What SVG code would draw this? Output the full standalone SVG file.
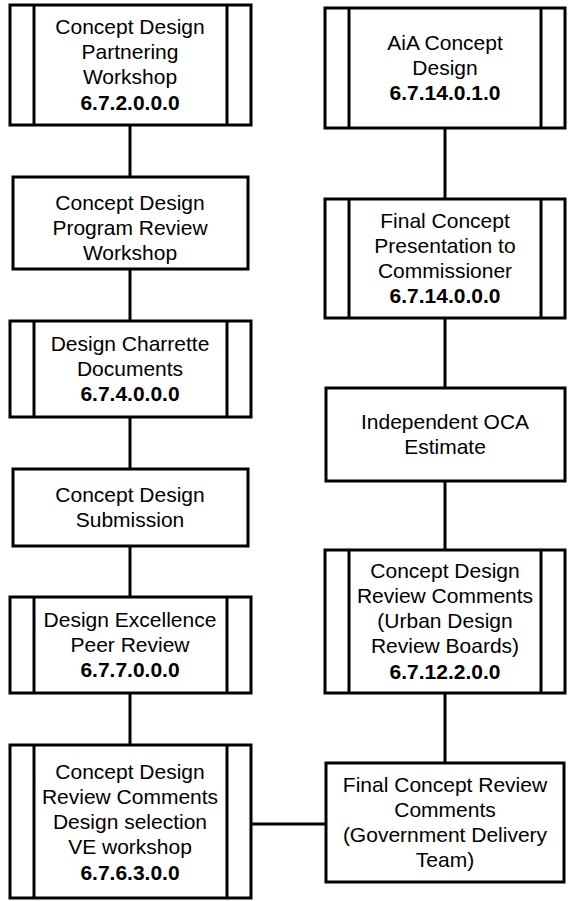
<svg xmlns="http://www.w3.org/2000/svg" width="569" height="901" viewBox="0 0 569 901">
<style>
.b{fill:#fff;stroke:#000;stroke-width:3}
.s{fill:none;stroke:#000;stroke-width:3}
.c{fill:none;stroke:#000;stroke-width:3}
text{font-family:"Liberation Sans",Arial,sans-serif;font-size:21px;fill:#000;text-anchor:middle}
.k{font-weight:bold}
</style>
<rect width="569" height="901" fill="#fff"/>
<g id="connectors">
<line class="c" x1="130" y1="125" x2="130" y2="177"/>
<line class="c" x1="130" y1="269" x2="130" y2="321"/>
<line class="c" x1="130" y1="417" x2="130" y2="469"/>
<line class="c" x1="130" y1="546" x2="130" y2="597"/>
<line class="c" x1="130" y1="693" x2="130" y2="745"/>
<line class="c" x1="251" y1="824" x2="326" y2="824"/>
<line class="c" x1="445" y1="128" x2="445" y2="199"/>
<line class="c" x1="445" y1="318" x2="445" y2="388"/>
<line class="c" x1="445" y1="481" x2="445" y2="550"/>
<line class="c" x1="445" y1="693" x2="445" y2="763"/>
</g>
<g id="n1">
<rect class="b" x="10" y="5" width="241" height="120"/>
<line class="s" x1="34" y1="5" x2="34" y2="125"/><line class="s" x1="227" y1="5" x2="227" y2="125"/>
<text x="130" y="34">Concept Design</text><text x="130" y="59">Partnering</text><text x="130" y="84">Workshop</text><text class="k" x="130" y="110">6.7.2.0.0.0</text>
</g>
<g id="n2">
<rect class="b" x="13" y="177" width="235" height="92"/>
<text x="130" y="210">Concept Design</text><text x="130" y="235">Program Review</text><text x="130" y="260">Workshop</text>
</g>
<g id="n3">
<rect class="b" x="10" y="321" width="241" height="96"/>
<line class="s" x1="34" y1="321" x2="34" y2="417"/><line class="s" x1="227" y1="321" x2="227" y2="417"/>
<text x="130" y="351">Design Charrette</text><text x="130" y="376">Documents</text><text class="k" x="130" y="401">6.7.4.0.0.0</text>
</g>
<g id="n4">
<rect class="b" x="13" y="469" width="235" height="77"/>
<text x="130" y="502">Concept Design</text><text x="130" y="527">Submission</text>
</g>
<g id="n5">
<rect class="b" x="10" y="597" width="241" height="96"/>
<line class="s" x1="34" y1="597" x2="34" y2="693"/><line class="s" x1="227" y1="597" x2="227" y2="693"/>
<text x="130" y="627">Design Excellence</text><text x="130" y="652">Peer Review</text><text class="k" x="130" y="677">6.7.7.0.0.0</text>
</g>
<g id="n6">
<rect class="b" x="10" y="745" width="241" height="153"/>
<line class="s" x1="34" y1="745" x2="34" y2="898"/><line class="s" x1="227" y1="745" x2="227" y2="898"/>
<text x="130" y="779">Concept Design</text><text x="130" y="804">Review Comments</text><text x="130" y="829">Design selection</text><text x="130" y="854">VE workshop</text><text class="k" x="130" y="880">6.7.6.3.0.0</text>
</g>
<g id="r1">
<rect class="b" x="325" y="8" width="240" height="120"/>
<line class="s" x1="349" y1="8" x2="349" y2="128"/><line class="s" x1="541" y1="8" x2="541" y2="128"/>
<text x="445" y="50">AiA Concept</text><text x="445" y="75">Design</text><text class="k" x="445" y="100">6.7.14.0.1.0</text>
</g>
<g id="r2">
<rect class="b" x="325" y="199" width="240" height="119"/>
<line class="s" x1="349" y1="199" x2="349" y2="318"/><line class="s" x1="541" y1="199" x2="541" y2="318"/>
<text x="445" y="228">Final Concept</text><text x="445" y="253">Presentation to</text><text x="445" y="278">Commissioner</text><text class="k" x="445" y="303">6.7.14.0.0.0</text>
</g>
<g id="r3">
<rect class="b" x="326" y="388" width="239" height="93"/>
<text x="445" y="429">Independent OCA</text><text x="445" y="454">Estimate</text>
</g>
<g id="r4">
<rect class="b" x="325" y="550" width="240" height="143"/>
<line class="s" x1="349" y1="550" x2="349" y2="693"/><line class="s" x1="541" y1="550" x2="541" y2="693"/>
<text x="445" y="578">Concept Design</text><text x="445" y="603">Review Comments</text><text x="445" y="628">(Urban Design</text><text x="445" y="653">Review Boards)</text><text class="k" x="445" y="679">6.7.12.2.0.0</text>
</g>
<g id="r5">
<rect class="b" x="326" y="763" width="238" height="119"/>
<text x="445" y="792">Final Concept Review</text><text x="445" y="817">Comments</text><text x="445" y="842">(Government Delivery</text><text x="445" y="867">Team)</text>
</g>
</svg>
